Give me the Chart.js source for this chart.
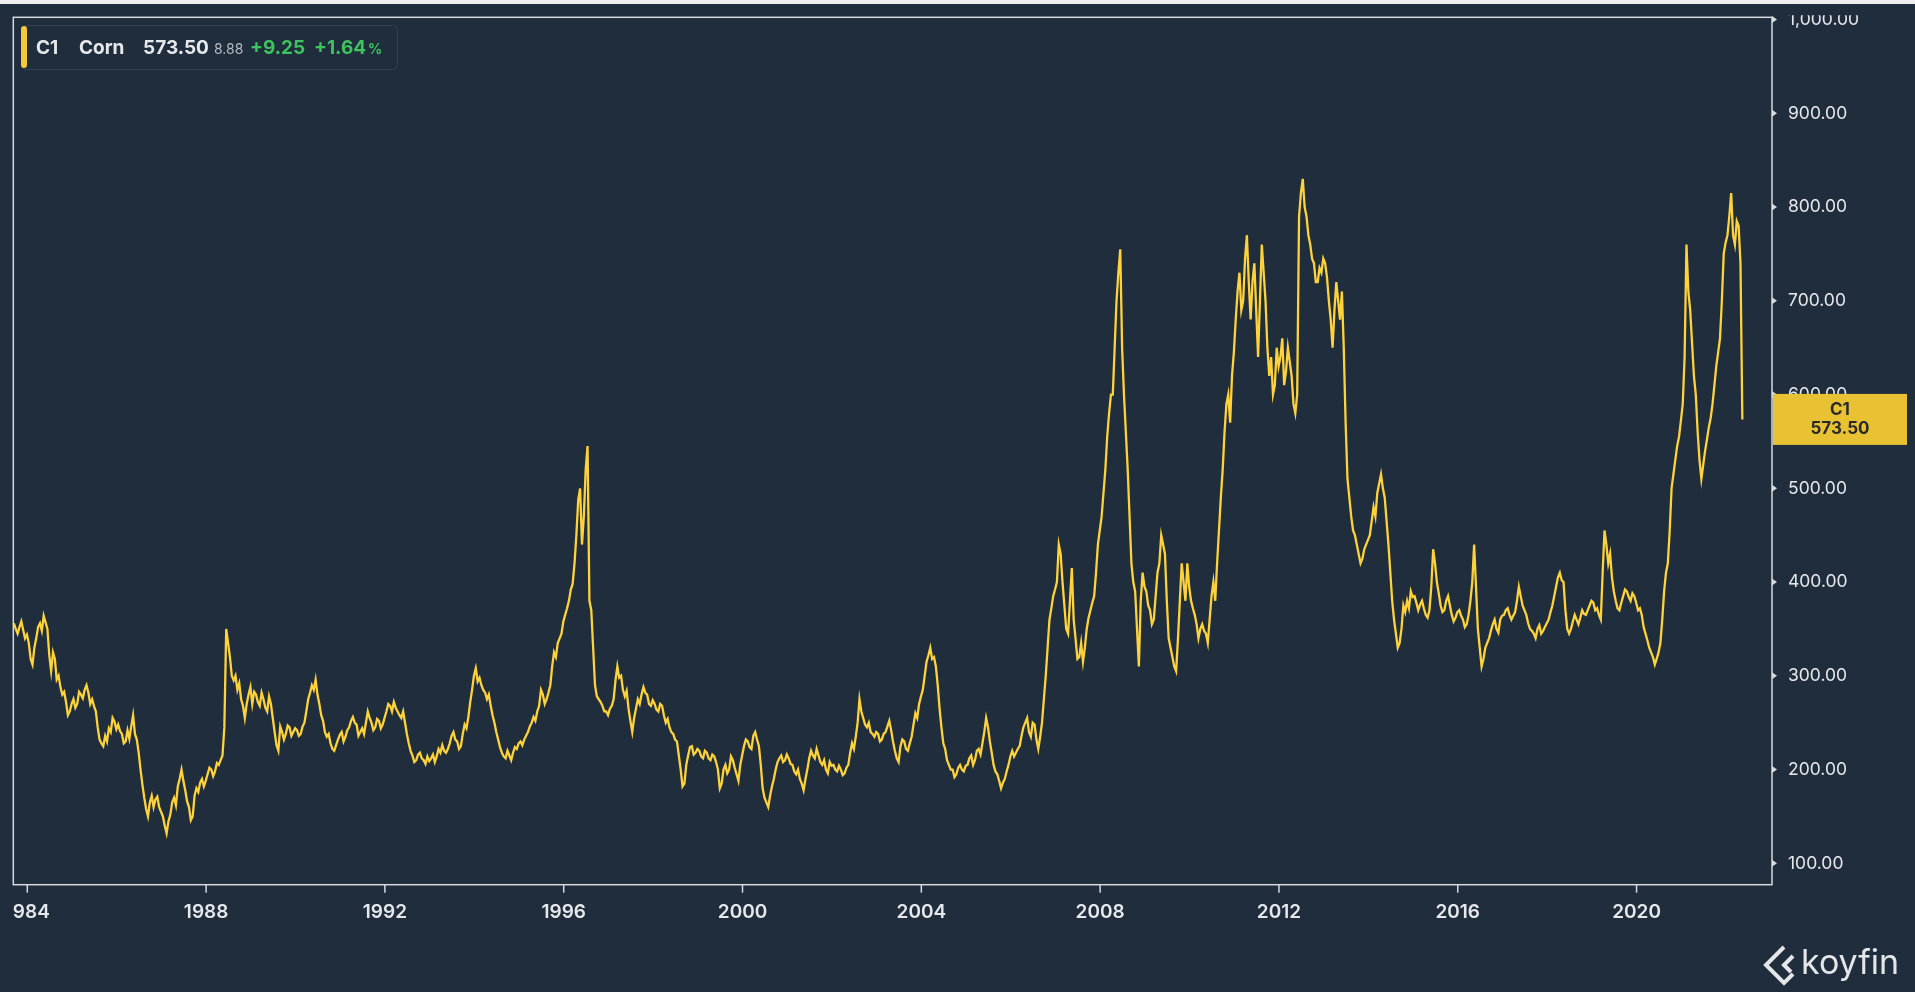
<!DOCTYPE html>
<html>
<head>
<meta charset="utf-8">
<title>C1 Corn</title>
<script src="https://cdn.jsdelivr.net/npm/chart.js@4.4.1/dist/chart.umd.min.js"></script>
<style>
  html, body { margin: 0; padding: 0; background: #1f2d3d; }
  canvas { display: block; }
</style>
</head>
<body>
<canvas id="chart" width="1915" height="992"></canvas>
<script>
// closes, twice a month, first point Sep 1983
const startYear = 1983.70;
const stepsPerYear = 24;
const corn1980s = [
    356,350, 345,352, 358,349, 340,344,
    335,318, 312,330, 340,352, 356,348, 364,357, 350,322, 305,325, 318,296, 300,288, 280,283, 272,258, 262,270,
    275,266, 270,283, 280,276, 285,290, 282,270, 275,268, 262,245, 232,228, 225,236, 230,244, 240,255, 251,243,
    248,241, 238,228, 230,242, 233,246, 258,238, 232,218, 200,184, 170,158, 150,165, 172,160, 168,171, 160,155,
    150,140, 132,145, 152,165, 170,162, 182,190, 200,188, 178,166, 160,146, 150,172, 180,176, 186,190, 182,188,
    195,202, 200,193, 198,207, 205,210, 215,245, 350,335, 320,300, 295,300, 285,292, 275,268, 255,270, 280,288,
    270,283, 280,272, 268,282, 275,266, 262,278, 270,255, 240,226, 220,246, 240,232, 238,247, 245,236, 240,244
];
const corn1990s = [
    242,236, 238,246, 250,262, 275,282, 290,285, 296,280, 270,258, 252,240, 235,238, 228,222, 220,226, 232,237,
    240,230, 235,242, 245,252, 256,250, 248,236, 240,244, 238,250, 262,255, 250,242, 245,254, 252,244, 248,255,
    262,270, 268,262, 272,266, 262,258, 255,262, 250,238, 228,220, 215,208, 210,216, 218,212, 210,206, 214,209,
    212,216, 208,214, 222,218, 226,220, 218,222, 228,236, 240,232, 230,222, 225,238, 248,244, 256,272, 285,300,
    308,294, 298,290, 285,282, 275,280, 268,258, 250,240, 232,224, 218,214, 212,220, 215,210, 218,224, 222,228,
    230,226, 232,236, 240,246, 250,256, 252,262, 268,285, 280,270, 275,282, 290,310, 325,320, 335,340, 345,358,
    365,372, 380,392, 398,420, 450,488, 500,440, 470,520, 545,380, 370,330, 290,278, 275,272, 268,262, 262,258,
    265,268, 275,295, 310,298, 300,285, 278,284, 265,252, 240,255, 265,275, 270,280, 288,282, 280,270, 268,274,
    270,264, 262,270, 268,258, 250,254, 245,240, 238,232, 230,215, 200,182, 185,205, 215,224, 225,216, 218,222,
    220,214, 212,220, 218,212, 210,216, 214,208, 200,180, 185,200, 205,196, 200,214, 210,202, 195,188, 205,215
];
const corn2000s = [
    225,232, 230,224, 222,236, 240,232, 225,205, 180,170, 165,160, 172,182, 190,200, 208,212, 215,208, 210,216,
    212,206, 205,198, 195,200, 190,185, 178,190, 200,212, 220,215, 212,222, 215,208, 205,210, 200,196, 208,204,
    205,200, 198,204, 200,194, 196,202, 205,218, 228,222, 235,250, 275,262, 255,248, 245,250, 240,238, 235,240,
    238,230, 232,238, 240,246, 252,242, 230,220, 212,208, 225,232, 230,222, 220,228, 235,248, 260,255, 270,278,
    285,300, 315,322, 330,318, 320,310, 290,265, 245,228, 222,210, 205,200, 200,192, 195,202, 205,200, 198,204,
    205,212, 215,205, 210,220, 222,216, 228,240, 255,245, 230,218, 205,198, 195,188, 180,186, 190,198, 205,214,
    220,214, 218,222, 225,236, 245,250, 255,240, 235,250, 248,232, 222,235, 250,275, 300,330, 360,372, 385,392,
    400,440, 430,400, 375,350, 345,380, 415,360, 340,318, 320,335, 315,330, 350,362, 370,378, 385,410, 440,455,
    470,495, 520,555, 580,600, 600,650, 700,730, 755,650, 600,560, 520,470, 420,400, 390,350, 310,380, 410,395,
    390,375, 370,355, 360,385, 410,420, 450,440, 430,380, 340,330, 320,310, 305,340, 380,420, 400,380, 420,395
];
const corn2010s = [
    380,372, 365,355, 340,350, 355,348, 345,335, 360,385, 400,380, 420,455, 490,520, 560,590, 600,570, 620,645,
    680,710, 730,690, 700,745, 770,720, 680,720, 740,690, 640,700, 760,730, 700,650, 620,640, 600,610, 650,630,
    640,660, 610,625, 650,635, 620,590, 580,600, 790,815, 830,800, 790,770, 760,745, 740,720, 720,735, 730,745,
    740,725, 700,680, 650,690, 720,700, 680,710, 650,570, 510,490, 470,455, 450,440, 430,420, 425,435, 440,445,
    450,465, 480,470, 495,505, 515,500, 490,465, 440,410, 380,360, 345,330, 335,350, 375,368, 380,372, 390,384,
    385,378, 370,376, 380,372, 365,362, 370,395, 435,420, 400,388, 375,368, 370,380, 385,375, 365,358, 362,368,
    370,364, 360,352, 355,365, 380,400, 440,395, 350,330, 310,318, 330,335, 340,348, 355,360, 350,346, 360,364,
    365,370, 372,365, 360,364, 368,380, 395,385, 375,370, 365,356, 350,348, 345,340, 350,354, 345,348, 352,356,
    360,368, 375,385, 395,405, 410,402, 400,370, 350,345, 350,358, 365,360, 355,362, 370,366, 365,370, 375,380,
    378,370, 372,365, 360,410, 455,440, 420,430, 405,390, 380,372, 370,378, 385,392, 390,384, 380,388, 385,378
];
const corn2020s = [
    370,372, 365,352, 345,338, 330,325, 320,312, 318,325, 335,360, 390,410, 420,455, 500,515, 530,545, 555,572,
    590,640, 760,710, 690,655, 620,600, 560,530, 510,525, 540,552, 565,575, 590,610, 630,645, 660,700, 750,762,
    770,790, 815,770, 760,785, 780,740, 573.5
];

const xTickYears = [1984, 1988, 1992, 1996, 2000, 2004, 2008, 2012, 2016, 2020];
const yTicks = [100, 200, 300, 400, 500, 600, 700, 800, 900, 1000];

const lastPrice = 573.50;
const legendSub = "8.88";
const legendChange = "+9.25";
const legendPct = "+1.64";

const colors = {
    background: '#1f2d3d',
    line: '#fdd23a',
    frame: '#d6dade',
    text: '#e6e8eb',
    green: '#3dc45c',
    badge: '#e9c234',
    badgeText: '#2a2a2a',
};

const allPrices = [].concat(corn1980s, corn1990s, corn2000s, corn2010s, corn2020s);
const points = allPrices.map((v, i) => ({ x: startYear + i / stepsPerYear, y: v }));

const FONT = 'Inter, "Noto Sans", sans-serif';

const overlay = {
    id: 'overlay',
    afterDraw(chart) {
        const { ctx, chartArea: a, scales: { x, y } } = chart;
        ctx.save();

        // thin light strip at the very top
        ctx.fillStyle = '#eeeeee';
        ctx.fillRect(0, 0, chart.width, 4);

        // frame
        ctx.strokeStyle = colors.frame;
        ctx.lineWidth = 1.5;
        ctx.strokeRect(a.left, a.top, a.right - a.left, a.bottom - a.top);

        // x ticks + labels (clipped at left border)
        xTickYears.forEach(yr => {
            const px = x.getPixelForValue(yr);
            ctx.beginPath();
            ctx.moveTo(px, a.bottom);
            ctx.lineTo(px, a.bottom + 8);
            ctx.stroke();
        });
        ctx.save();
        ctx.beginPath();
        ctx.rect(a.left, a.bottom, a.right - a.left, 100);
        ctx.clip();
        ctx.fillStyle = colors.text;
        ctx.font = '600 19px ' + FONT;
        ctx.textAlign = 'center';
        ctx.textBaseline = 'middle';
        xTickYears.forEach(yr => {
            ctx.fillText(String(yr), x.getPixelForValue(yr), 912);
        });
        ctx.restore();

        // y ticks (small arrows) + labels
        ctx.fillStyle = colors.frame;
        yTicks.forEach(v => {
            const py = y.getPixelForValue(v);
            ctx.beginPath();
            ctx.moveTo(a.right, py - 3.5);
            ctx.lineTo(a.right + 5, py);
            ctx.lineTo(a.right, py + 3.5);
            ctx.closePath();
            ctx.fill();
        });
        ctx.save();
        ctx.beginPath();
        ctx.rect(a.right, a.top - 2, 200, a.bottom - a.top + 30);
        ctx.clip();
        ctx.fillStyle = colors.text;
        ctx.font = '400 17.5px ' + FONT;
        ctx.textAlign = 'left';
        ctx.textBaseline = 'middle';
        yTicks.forEach(v => {
            const label = v.toLocaleString('en-US', { minimumFractionDigits: 2, maximumFractionDigits: 2 });
            ctx.fillText(label, a.right + 16, y.getPixelForValue(v));
        });
        ctx.restore();

        // last price badge
        const py = y.getPixelForValue(lastPrice);
        ctx.fillStyle = colors.badge;
        ctx.fillRect(a.right + 1, py - 25.5, 134, 51);
        ctx.fillStyle = colors.badgeText;
        ctx.font = '700 17px ' + FONT;
        ctx.textAlign = 'center';
        ctx.textBaseline = 'middle';
        ctx.fillText('C1', a.right + 68, py - 10);
        ctx.fillText(lastPrice.toFixed(2), a.right + 68, py + 9);

        // legend box
        ctx.strokeStyle = '#34424f';
        ctx.lineWidth = 1;
        ctx.beginPath();
        ctx.roundRect(21.5, 25.5, 376, 44, 5);
        ctx.stroke();
        ctx.fillStyle = '#f7c93a';
        ctx.beginPath();
        ctx.roundRect(21, 26, 6, 42, 3);
        ctx.fill();

        ctx.textAlign = 'left';
        ctx.textBaseline = 'middle';
        const ty = 48;
        ctx.fillStyle = colors.text;
        ctx.font = '700 19px ' + FONT;
        ctx.fillText('C1', 36, ty);
        ctx.fillText('Corn', 79, ty);
        ctx.fillText(lastPrice.toFixed(2), 143, ty);
        ctx.fillStyle = '#b7bcc2';
        ctx.font = '400 14px ' + FONT;
        ctx.fillText(legendSub, 214, ty + 2);
        ctx.fillStyle = colors.green;
        ctx.font = '700 19px ' + FONT;
        ctx.fillText(legendChange, 250, ty);
        ctx.fillText(legendPct, 314, ty);
        ctx.font = '700 14px ' + FONT;
        ctx.fillText('%', 368, ty + 2);

        // koyfin mark
        ctx.strokeStyle = '#e4e6e9';
        ctx.lineWidth = 4;
        ctx.lineJoin = 'miter';
        ctx.beginPath();
        ctx.moveTo(1784, 947);
        ctx.lineTo(1766, 965);
        ctx.lineTo(1784, 983);
        ctx.lineTo(1793, 974);
        ctx.stroke();
        ctx.beginPath();
        ctx.moveTo(1793, 956);
        ctx.lineTo(1784, 965);
        ctx.lineTo(1791, 972);
        ctx.stroke();
        ctx.fillStyle = '#e4e6e9';
        ctx.font = '400 34px ' + FONT;
        ctx.textAlign = 'left';
        ctx.textBaseline = 'alphabetic';
        ctx.fillText('koyfin', 1801, 974);

        ctx.restore();
    }
};

document.addEventListener('DOMContentLoaded', function () {
    const ctx = document.getElementById('chart').getContext('2d');
    new Chart(ctx, {
        type: 'line',
        data: {
            datasets: [{
                label: 'C1 Corn',
                data: points,
                borderColor: colors.line,
                borderWidth: 2.3,
                pointRadius: 0,
                tension: 0,
            }],
        },
        options: {
            responsive: false,
            animation: false,
            devicePixelRatio: 1,
            layout: {
                padding: { left: 13.3, right: 143, top: 17.3, bottom: 107.3 },
            },
            scales: {
                x: { type: 'linear', display: false, min: 1983.687, max: 2023.03 },
                y: { type: 'linear', display: false, min: 77.2, max: 1002.4 },
            },
            plugins: {
                legend: { display: false },
                tooltip: { enabled: false },
                title: { display: false },
            },
        },
        plugins: [overlay],
    });
});
</script>
</body>
</html>
